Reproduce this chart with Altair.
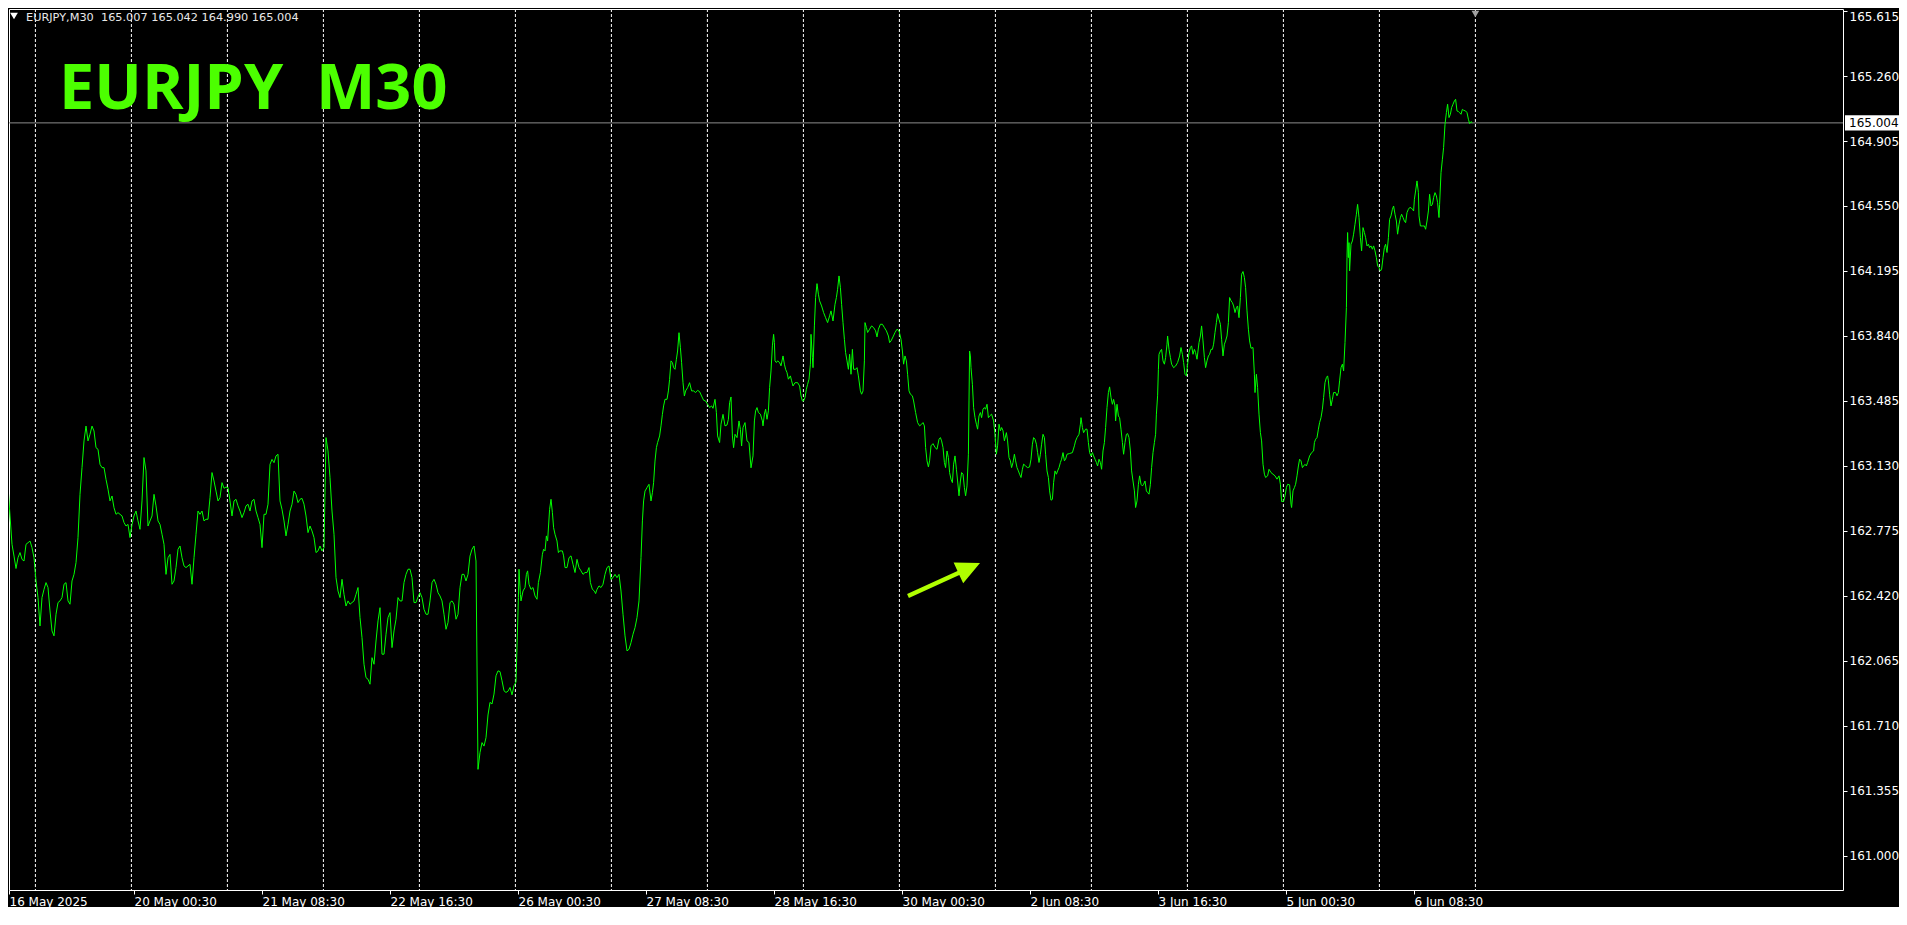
import altair as alt
import pandas as pd

# ---- price data (bar index on screen, M30 close) ----
# bars 0..255, one close per bar
close_a = [
    162.939, 163.021, 162.857, 162.702, 162.638, 162.570, 162.629, 162.657, 162.620, 162.611,
    162.702, 162.711, 162.720, 162.684, 162.629, 162.502, 162.411, 162.256, 162.411, 162.456,
    162.493, 162.466, 162.338, 162.229, 162.202, 162.320, 162.384, 162.393, 162.411, 162.484,
    162.493, 162.393, 162.375, 162.502, 162.538, 162.602, 162.739, 162.975, 163.121, 163.267,
    163.348, 163.267, 163.303, 163.348, 163.321, 163.230, 163.221, 163.139, 163.121, 163.121,
    163.057, 163.003, 162.939, 162.966, 162.902, 162.866, 162.875, 162.866, 162.857, 162.821,
    162.802, 162.811, 162.739, 162.811, 162.857, 162.884, 162.830, 162.784, 162.939, 163.176,
    163.103, 162.802, 162.830, 162.857, 162.975, 162.912, 162.830, 162.811, 162.757, 162.702,
    162.538, 162.629, 162.647, 162.484, 162.502, 162.575, 162.675, 162.693, 162.629, 162.584,
    162.575, 162.584, 162.593, 162.484, 162.629, 162.757, 162.884, 162.866, 162.884, 162.830,
    162.839, 162.839, 162.957, 163.094, 163.048, 162.993, 162.939, 162.957, 163.039, 163.008,
    163.015, 163.012, 162.939, 162.857, 162.939, 162.948, 162.912, 162.884, 162.848, 162.875,
    162.912, 162.921, 162.884, 162.939, 162.948, 162.884, 162.848, 162.811, 162.684, 162.866,
    162.866, 162.921, 163.139, 163.166, 163.148, 163.185, 163.194, 162.939, 162.893, 162.830,
    162.748, 162.811, 162.884, 162.921, 162.993, 162.975, 162.930, 162.948, 162.953, 162.921,
    162.857, 162.766, 162.802, 162.775, 162.739, 162.657, 162.666, 162.693, 162.666, 162.684,
    163.285, 163.212, 163.066, 162.884, 162.757, 162.520, 162.447, 162.411, 162.511, 162.429,
    162.365, 162.393, 162.375, 162.384, 162.393, 162.429, 162.466, 162.302, 162.192, 162.047,
    161.974, 161.965, 161.938, 162.083, 162.047, 162.174, 162.284, 162.356, 162.102, 162.102,
    162.211, 162.302, 162.329, 162.138, 162.229, 162.293, 162.411, 162.393, 162.393, 162.493,
    162.538, 162.566, 162.566, 162.520, 162.384, 162.384, 162.415, 162.438, 162.411, 162.347,
    162.320, 162.320, 162.393, 162.493, 162.511, 162.484, 162.438, 162.420, 162.393, 162.320,
    162.238, 162.275, 162.384, 162.393, 162.375, 162.293, 162.320, 162.466, 162.538, 162.538,
    162.502, 162.538, 162.638, 162.675, 162.693, 162.611, 161.473, 161.565, 161.619, 161.600,
    161.646, 161.770, 161.839, 161.830, 161.884, 161.984, 162.011, 162.007, 161.957, 161.902,
    161.893, 161.900, 161.920, 161.880, 161.930, 161.950,
]

bars_c = [
    256.2, 256.5, 257.2, 257.5, 258.5, 259.5, 260.2, 260.8, 261.5, 262.5,
    263.5, 264.5, 265.5, 266.2, 267.2, 268.2, 268.8, 269.5, 270.2, 270.8,
    271.8, 272.5, 273.2, 273.8, 274.5, 275.5, 276.2, 276.8, 278.2, 278.8,
    279.5, 280.5, 281.5, 282.5, 283.5, 284.5, 285.5, 286.5, 287.5, 288.5,
    289.5, 290.5, 291.5, 292.2, 293.2, 294.2, 294.8, 295.5, 296.5, 297.5,
    298.5, 299.5, 300.5, 301.5, 302.5, 303.5, 304.5, 305.5, 306.5, 307.5,
    308.5, 309.5, 310.5, 311.5, 312.5, 313.5, 314.5, 315.5, 316.5, 317.5,
    318.2, 318.8, 319.5, 320.5, 321.5, 322.5, 323.2, 323.8, 324.5, 325.2,
    325.8, 326.8, 327.5, 328.2, 328.8, 329.5, 330.5, 331.2, 331.8, 332.5,
    333.2, 333.8, 334.5, 335.2, 335.8, 336.5, 337.2, 337.8, 338.5, 339.2,
    339.8, 340.8, 341.8, 342.8, 343.8, 344.8, 345.8, 346.8, 347.8, 348.8,
    349.8, 350.8, 351.8, 352.8, 353.5, 354.5, 355.2, 355.8, 356.8, 357.5,
    358.5, 359.5, 360.5, 361.2, 361.8, 362.5, 363.2, 363.8, 364.5, 365.5,
    366.5, 367.2, 367.8, 368.5, 369.5, 370.5, 371.5, 372.5,
]
close_c = [
    162.411, 162.566, 162.429, 162.393, 162.447, 162.466, 162.538, 162.557, 162.484, 162.456,
    162.466, 162.420, 162.402, 162.493, 162.548, 162.648, 162.675, 162.666, 162.748, 162.720,
    162.893, 162.948, 162.875, 162.793, 162.757, 162.720, 162.657, 162.666, 162.666, 162.639,
    162.575, 162.575, 162.629, 162.639, 162.593, 162.548, 162.620, 162.575, 162.557, 162.538,
    162.548, 162.548, 162.575, 162.493, 162.456, 162.447, 162.433, 162.456, 162.475, 162.466,
    162.484, 162.538, 162.575, 162.584, 162.511, 162.520, 162.538, 162.520, 162.538, 162.447,
    162.320, 162.202, 162.120, 162.129, 162.165, 162.211, 162.247, 162.302, 162.393, 162.630,
    162.830, 162.939, 162.993, 163.012, 163.030, 162.939, 162.984, 163.039, 163.157, 163.230,
    163.258, 163.294, 163.349, 163.412, 163.458, 163.494, 163.494, 163.540, 163.603, 163.704,
    163.695, 163.667, 163.658, 163.713, 163.758, 163.858, 163.776, 163.694, 163.585, 163.512,
    163.540, 163.558, 163.585, 163.540, 163.540, 163.531, 163.543, 163.536, 163.512, 163.489,
    163.485, 163.467, 163.449, 163.458, 163.445, 163.494, 163.421, 163.294, 163.258, 163.358,
    163.412, 163.349, 163.354, 163.385, 163.476, 163.507, 163.294, 163.230, 163.303, 163.285,
    163.376, 163.330, 163.239, 163.340, 163.367, 163.267, 163.258, 163.120,
]

seg_d = [
    (373.5, 163.185), (374.2, 163.376), (374.8, 163.431), (375.5, 163.449), (376.2, 163.422),
    (377.2, 163.413), (378.2, 163.376), (378.5, 163.349), (379.2, 163.413), (379.8, 163.440),
    (380.5, 163.385), (381.2, 163.431), (381.8, 163.558), (382.5, 163.649), (383.2, 163.786),
    (383.8, 163.849), (384.2, 163.804), (384.5, 163.704), (385.2, 163.695), (385.8, 163.704),
    (386.8, 163.695), (387.5, 163.677), (388.5, 163.731), (389.2, 163.686), (389.8, 163.658),
    (390.5, 163.640), (391.2, 163.604), (392.2, 163.622), (392.8, 163.595), (393.5, 163.567),
    (394.5, 163.585), (395.8, 163.585), (396.8, 163.567), (397.5, 163.513), (398.2, 163.485),
    (398.8, 163.485), (399.5, 163.504), (400.2, 163.549), (400.8, 163.576), (401.5, 163.604),
    (402.2, 163.686), (402.5, 163.849), (403.2, 163.722), (403.5, 163.667), (404.2, 163.895),
    (404.8, 164.050), (405.5, 164.126), (406.2, 164.068), (406.8, 164.032), (407.8, 164.004),
    (408.8, 163.968), (409.8, 163.940), (410.8, 163.913), (411.8, 163.950), (412.5, 163.977),
    (413.5, 163.922), (414.5, 164.013), (415.2, 164.050), (415.8, 164.095), (416.5, 164.168),
    (417.2, 164.104), (417.8, 164.013), (418.5, 163.913), (419.2, 163.822), (419.8, 163.749),
    (420.5, 163.704), (421.2, 163.658), (421.8, 163.740), (422.5, 163.631), (423.2, 163.767),
    (423.8, 163.658), (424.8, 163.658), (425.5, 163.667), (426.2, 163.622), (427.2, 163.540),
    (427.8, 163.522), (428.5, 163.540), (429.2, 163.704), (429.5, 163.913), (430.2, 163.886),
    (430.8, 163.859), (431.8, 163.877), (432.8, 163.895), (433.8, 163.886), (434.8, 163.868),
    (435.5, 163.835), (436.2, 163.877), (437.2, 163.904), (438.2, 163.904), (439.2, 163.886),
    (440.2, 163.868), (441.2, 163.840), (441.8, 163.804), (442.5, 163.813), (443.5, 163.835),
    (444.5, 163.859), (445.5, 163.877), (446.5, 163.868), (447.5, 163.822), (448.2, 163.758),
    (448.8, 163.686), (449.5, 163.731), (450.2, 163.704), (450.8, 163.631), (451.5, 163.540),
    (452.2, 163.522), (453.2, 163.513), (453.8, 163.485), (454.8, 163.422), (455.8, 163.367),
    (456.8, 163.349), (457.8, 163.358), (458.5, 163.367), (459.2, 163.349), (459.8, 163.231),
    (460.5, 163.158), (461.2, 163.125), (461.8, 163.158), (462.5, 163.240), (463.5, 163.252),
    (464.5, 163.231), (465.5, 163.221), (466.5, 163.276), (467.2, 163.285), (467.8, 163.267),
    (468.5, 163.231), (469.2, 163.149), (469.8, 163.121), (470.5, 163.212), (471.2, 163.176),
    (471.8, 163.094), (472.5, 163.058), (473.2, 163.039), (473.8, 163.140), (474.5, 163.185),
    (475.2, 163.112), (475.8, 163.048), (476.5, 162.967), (477.2, 163.048), (477.8, 163.094),
    (478.5, 163.085), (479.2, 163.012), (479.8, 162.967), (480.5, 163.021), (481.2, 163.194),
    (481.5, 163.485), (481.8, 163.758), (482.2, 163.731), (482.5, 163.667), (483.2, 163.576),
    (483.8, 163.449), (484.5, 163.394), (485.2, 163.358), (485.8, 163.331), (486.5, 163.403),
    (487.2, 163.422), (487.8, 163.394), (488.5, 163.440), (489.2, 163.449), (489.8, 163.440),
    (490.5, 163.467), (491.2, 163.394), (491.8, 163.403), (492.8, 163.413), (493.8, 163.376),
    (494.5, 163.303), (495.2, 163.194), (495.8, 163.240), (496.5, 163.358), (497.2, 163.322),
    (497.8, 163.340), (498.5, 163.322), (499.2, 163.267),
]

seg_e = [
    (500.2, 163.312), (500.8, 163.267), (501.5, 163.176), (502.2, 163.158), (502.8, 163.121),
    (503.5, 163.149), (504.2, 163.194), (504.8, 163.158), (505.5, 163.121), (506.2, 163.103),
    (506.8, 163.085), (507.5, 163.067), (508.2, 163.112), (508.8, 163.140), (509.8, 163.130),
    (510.8, 163.121), (511.8, 163.125), (512.5, 163.167), (513.2, 163.249), (513.8, 163.285),
    (514.5, 163.276), (515.2, 163.249), (515.8, 163.203), (516.5, 163.149), (517.2, 163.194),
    (517.8, 163.249), (518.5, 163.303), (519.2, 163.285), (519.8, 163.194), (520.5, 163.103),
    (521.2, 163.067), (521.8, 162.994), (522.5, 162.943), (523.2, 162.948), (523.8, 163.039),
    (524.5, 163.103), (525.2, 163.085), (525.8, 163.103), (526.5, 163.121), (527.2, 163.149),
    (527.8, 163.167), (528.5, 163.203), (529.2, 163.158), (529.8, 163.167), (530.5, 163.194),
    (531.8, 163.198), (533.2, 163.203), (534.2, 163.240), (534.8, 163.267), (535.5, 163.285),
    (536.5, 163.303), (537.2, 163.358), (537.5, 163.394), (538.2, 163.340), (538.8, 163.312),
    (539.8, 163.331), (540.5, 163.331), (541.2, 163.258), (541.8, 163.203), (542.5, 163.185),
    (543.2, 163.203), (543.8, 163.185), (544.5, 163.167), (545.2, 163.149), (545.8, 163.130),
    (546.5, 163.167), (547.2, 163.149), (547.8, 163.112), (548.5, 163.212), (549.2, 163.258),
    (549.8, 163.340), (550.5, 163.449), (551.2, 163.531), (551.8, 163.562), (552.5, 163.504),
    (553.2, 163.467), (553.8, 163.494), (554.5, 163.458), (554.8, 163.376), (555.5, 163.467),
    (556.2, 163.403), (556.8, 163.394), (557.5, 163.331), (558.2, 163.258), (558.8, 163.194),
    (559.5, 163.258), (560.2, 163.303), (560.8, 163.307), (561.5, 163.285), (562.2, 163.212),
    (562.8, 163.103), (563.5, 163.048), (564.2, 162.994), (564.8, 162.903), (565.5, 162.939),
    (566.2, 163.030), (566.8, 163.076), (567.5, 163.030), (568.2, 163.021), (568.8, 163.030),
    (569.5, 163.048), (570.2, 162.994), (570.8, 162.985), (571.5, 162.976), (572.2, 163.030),
    (572.8, 163.121), (573.5, 163.203), (574.2, 163.258), (574.8, 163.303), (575.2, 163.413),
    (575.8, 163.513), (576.2, 163.658), (576.5, 163.740), (577.2, 163.758), (577.8, 163.767),
    (578.5, 163.704), (579.2, 163.686), (579.8, 163.722), (580.5, 163.795), (580.8, 163.840),
    (581.5, 163.767), (582.2, 163.722), (582.8, 163.686), (583.8, 163.667), (584.8, 163.676),
    (585.8, 163.695), (586.8, 163.731), (587.5, 163.777), (588.2, 163.740), (588.8, 163.695),
    (589.5, 163.631), (590.2, 163.622), (590.8, 163.686), (591.5, 163.749), (592.2, 163.777),
    (592.8, 163.786), (593.5, 163.740), (594.2, 163.767), (594.8, 163.749), (595.5, 163.713),
    (596.5, 163.804), (597.2, 163.840), (597.8, 163.895), (598.5, 163.813), (599.2, 163.722),
    (599.8, 163.667), (600.5, 163.704), (601.2, 163.731), (601.8, 163.740), (602.5, 163.767),
    (603.2, 163.767), (603.8, 163.795), (604.5, 163.859), (605.2, 163.913), (605.8, 163.962),
    (606.5, 163.931), (607.2, 163.904), (607.8, 163.822), (608.5, 163.731), (609.2, 163.795),
    (609.8, 163.813), (610.5, 163.840), (611.2, 163.913), (611.8, 164.050), (612.5, 164.032),
    (613.2, 164.022), (613.8, 164.004), (614.5, 163.968), (615.2, 163.995), (615.8, 164.004),
    (616.5, 163.940), (617.2, 164.050), (617.8, 164.177), (618.5, 164.192), (619.2, 164.159),
    (619.8, 164.104), (620.5, 163.977), (621.2, 163.877), (621.8, 163.813), (622.5, 163.773),
]

seg_f = [
    (623.5, 163.777), (624.2, 163.631), (624.5, 163.531), (625.2, 163.631), (625.8, 163.558),
    (626.5, 163.413), (627.2, 163.312), (627.8, 163.267), (628.5, 163.139), (629.2, 163.085),
    (629.8, 163.067), (630.8, 163.076), (631.5, 163.112), (632.5, 163.094), (633.5, 163.085),
    (634.5, 163.076), (635.5, 163.058), (636.5, 163.076), (637.2, 163.030), (637.8, 162.936),
    (638.8, 162.936), (639.5, 162.967), (640.2, 163.012), (640.8, 163.030), (641.8, 163.027),
    (642.5, 162.921), (642.8, 162.903), (643.5, 162.994), (644.2, 163.012), (644.8, 163.030),
    (645.5, 163.076), (646.2, 163.130), (646.8, 163.167), (647.5, 163.158), (648.2, 163.121),
    (648.8, 163.130), (649.5, 163.139), (650.2, 163.130), (650.8, 163.149), (651.8, 163.185),
    (652.8, 163.203), (653.8, 163.212), (654.2, 163.258), (654.8, 163.276), (655.5, 163.285),
    (656.2, 163.331), (656.8, 163.367), (657.5, 163.394), (658.2, 163.440), (658.8, 163.504),
    (659.5, 163.585), (660.2, 163.613), (660.8, 163.622), (661.2, 163.595), (661.8, 163.522),
    (662.5, 163.458), (663.2, 163.494), (663.8, 163.531), (664.8, 163.531), (665.5, 163.513),
    (666.2, 163.531), (666.8, 163.595), (667.5, 163.667), (668.2, 163.686), (668.8, 163.649),
    (669.5, 163.804), (670.2, 163.995), (670.5, 164.268), (670.8, 164.405), (671.2, 164.268),
    (671.5, 164.350), (671.8, 164.195), (672.5, 164.341), (673.2, 164.359), (673.8, 164.396),
    (674.5, 164.450), (675.2, 164.505), (675.8, 164.559), (676.5, 164.487), (677.2, 164.377),
    (677.8, 164.305), (678.5, 164.432), (679.2, 164.405), (679.8, 164.377), (680.5, 164.332),
    (681.2, 164.341), (681.8, 164.323), (682.5, 164.332), (683.2, 164.314), (683.8, 164.332),
    (684.5, 164.305), (685.2, 164.268), (685.8, 164.223), (686.5, 164.214), (687.2, 164.195),
    (687.8, 164.204), (688.5, 164.268), (689.2, 164.323), (689.8, 164.341), (690.5, 164.296),
    (691.2, 164.377), (691.8, 164.477), (692.5, 164.496), (693.2, 164.532), (693.8, 164.550),
    (694.5, 164.505), (695.2, 164.468), (695.8, 164.396), (696.5, 164.450), (697.2, 164.487),
    (697.8, 164.505), (698.5, 164.487), (699.2, 164.468), (699.8, 164.459), (700.5, 164.514),
    (701.2, 164.532), (701.8, 164.541), (702.5, 164.541), (703.2, 164.532), (703.8, 164.523),
    (704.2, 164.587), (704.8, 164.632), (705.5, 164.687), (706.2, 164.623), (706.5, 164.496),
    (707.2, 164.441), (708.2, 164.441), (709.2, 164.441), (709.8, 164.423), (710.5, 164.468),
    (711.2, 164.523), (711.8, 164.614), (712.5, 164.550), (713.2, 164.559), (713.8, 164.596),
    (714.5, 164.623), (715.2, 164.605), (715.8, 164.568), (716.5, 164.487), (716.8, 164.559),
    (717.5, 164.732), (718.2, 164.805), (718.8, 164.869), (719.5, 164.996), (720.2, 165.060),
    (720.8, 165.106), (721.5, 165.033), (722.2, 165.051), (722.8, 165.087), (723.5, 165.106),
    (724.2, 165.124), (724.8, 165.133), (725.5, 165.069), (726.2, 165.066), (726.8, 165.060),
    (727.5, 165.051), (728.2, 165.078), (728.8, 165.073), (729.8, 165.069), (730.5, 165.060),
    (731.2, 165.024), (731.8, 165.000), (732.5, 165.011), (733.2, 165.004),
]

# ---- axes / annotations ----
grid_bars = [14.7, 62.7, 110.7, 158.7, 206.7, 254.7, 302.7, 350.7,
             398.7, 446.7, 494.7, 542.7, 590.7, 638.7, 686.7, 734.7]
tick_bars = [1.5, 64, 128, 192, 256, 320, 384, 448, 512, 576, 640, 704]
tick_labels = ["16 May 2025", "20 May 00:30", "21 May 08:30", "22 May 16:30",
               "26 May 00:30", "27 May 08:30", "28 May 16:30", "30 May 00:30",
               "2 Jun 08:30", "3 Jun 16:30", "5 Jun 00:30", "6 Jun 08:30"]
price_ticks = [161.000, 161.355, 161.710, 162.065, 162.420, 162.775, 163.130,
               163.485, 163.840, 164.195, 164.550, 164.905, 165.260, 165.615]
last_price = [165.004]
header_text = ["EURJPY,M30\u00a0 165.007 165.042 164.990 165.004"]
title_text = ["EURJPY \u00a0M30"]
arrow_bar = [469.0]
arrow_price = [162.510]

rows = [(float(i), p) for i, p in enumerate(close_a)]
rows += list(zip(bars_c, close_c)) + seg_d + seg_e + seg_f
df = pd.DataFrame(rows, columns=["bar", "price"])

FONT = "DejaVu Sans"
W, H = 1834, 881
label_expr = ("[" + ",".join("'%s'" % t for t in tick_labels) + "][indexof(["
              + ",".join(str(b) for b in tick_bars) + "], datum.value)]")

x_scale = alt.Scale(domain=[1.5, 918.5], nice=False, zero=False)
y_scale = alt.Scale(domain=[160.814, 165.626], nice=False, zero=False)
x_axis = alt.Axis(values=tick_bars, labelExpr=label_expr, orient="bottom",
                  labelAlign="left", labelPadding=2, tickSize=4, tickColor="#FFFFFF",
                  labelColor="#FFFFFF", labelFont=FONT, labelFontSize=12,
                  domain=False, grid=False, title=None, labelOverlap=False,
                  labelFlush=False)
y_axis = alt.Axis(values=price_ticks, format=".3f", orient="right",
                  labelPadding=2, tickSize=4, tickColor="#FFFFFF",
                  labelColor="#FFFFFF", labelFont=FONT, labelFontSize=12,
                  domain=False, grid=False, title=None, labelOverlap=False,
                  labelFlush=4)
X = alt.X("bar:Q", scale=x_scale, axis=x_axis)
Y = alt.Y("price:Q", scale=y_scale, axis=y_axis)

grid = alt.Chart(pd.DataFrame({"bar": grid_bars})).mark_rule(
    color="#FFFFFF", strokeDash=[3, 2], strokeWidth=1).encode(x=X)

price_line = alt.Chart(pd.DataFrame({"price": last_price})).mark_rule(
    color="#8C8C8C", strokeWidth=1).encode(y=Y)

line = alt.Chart(df).mark_line(color="#00FF00", strokeWidth=1, clip=True).encode(x=X, y=Y)

price_box = alt.Chart(pd.DataFrame({"price": last_price})).mark_point(
    shape="M-1,-0.278L1,-0.278L1,0.278L-1,0.278Z", filled=True, color="#FFFFFF",
    size=2916, opacity=1, strokeWidth=0).encode(x=alt.value(W + 29), y=Y)

price_txt = alt.Chart(pd.DataFrame({"price": last_price})).mark_text(
    align="left", baseline="middle", color="#000000", font=FONT, fontSize=12).encode(
    x=alt.value(W + 6), y=Y, text=alt.Text("price:Q", format=".3f"))

arrow = alt.Chart(pd.DataFrame({"bar": arrow_bar, "price": arrow_price})).mark_point(
    shape="M-1,-0.055L0.40,-0.055L0.40,-0.29L1,0L0.40,0.29L0.40,0.055L-1,0.055Z",
    filled=True, color="#B0FF00", size=6273, angle=335.4, opacity=1,
    strokeWidth=0).encode(x=X, y=Y)

title = alt.Chart(pd.DataFrame({"t": title_text})).mark_text(
    align="left", baseline="alphabetic", font="Open Sans", fontWeight="bold",
    fontSize=63, color="#4CFF00").encode(x=alt.value(50), y=alt.value(100), text="t:N")

header = alt.Chart(pd.DataFrame({"t": header_text})).mark_text(
    align="left", baseline="alphabetic", font=FONT, fontSize=11.3,
    color="#E8E8E8").encode(x=alt.value(17), y=alt.value(11.5), text="t:N")

header_tri = alt.Chart(pd.DataFrame({"t": header_text})).mark_point(
    shape="triangle-down", filled=True, color="#FFFFFF", size=60, opacity=1,
    strokeWidth=0).encode(x=alt.value(5), y=alt.value(7))

shift_mark = alt.Chart(pd.DataFrame({"bar": grid_bars[-1:]})).mark_point(
    shape="triangle-down", filled=True, color="#A0A0A0", size=60, opacity=1,
    strokeWidth=0).encode(x=X, y=alt.value(5))

chart = alt.layer(
    grid, price_line, line, arrow, title, header, header_tri, shift_mark,
    price_box, price_txt
).properties(
    width=W, height=H, background="#000000", padding=0
).configure_view(
    stroke="#FFFFFF", strokeWidth=1
)

chart.save("out.html", embed_options={"renderer": "svg", "actions": False})
